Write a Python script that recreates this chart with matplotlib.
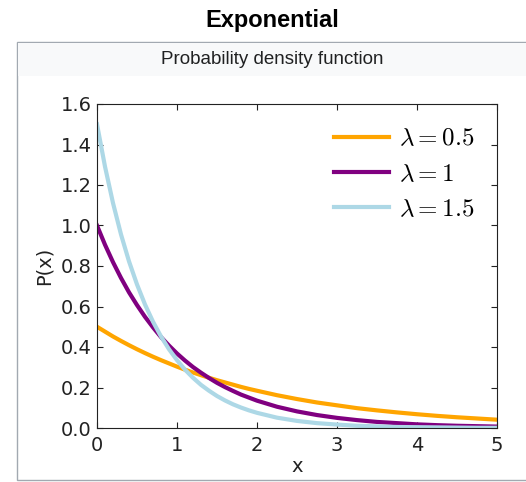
import matplotlib
matplotlib.use("Agg")
from matplotlib import pyplot as plt
from matplotlib.patches import Rectangle

plt.rcParams['mathtext.fontset'] = 'cm'

# values
x = [0.0, 0.1, 0.2, 0.3, 0.4, 0.5, 0.6, 0.7, 0.8, 0.9, 1.0,
     1.1, 1.2, 1.3, 1.4, 1.5, 1.6, 1.7, 1.8, 1.9, 2.0,
     2.25, 2.5, 2.75, 3.0, 3.25, 3.5, 3.75, 4.0, 4.25, 4.5, 4.75, 5.0]
p_05 = [0.500, 0.476, 0.452, 0.430, 0.409, 0.389, 0.370, 0.352, 0.335, 0.319, 0.303,
        0.288, 0.274, 0.261, 0.248, 0.236, 0.225, 0.214, 0.203, 0.193, 0.184,
        0.162, 0.143, 0.126, 0.112, 0.098, 0.087, 0.077, 0.068, 0.060, 0.053, 0.047, 0.041]
p_1 = [1.000, 0.905, 0.819, 0.741, 0.670, 0.607, 0.549, 0.497, 0.449, 0.407, 0.368,
       0.333, 0.301, 0.273, 0.247, 0.223, 0.202, 0.183, 0.165, 0.150, 0.135,
       0.105, 0.082, 0.064, 0.050, 0.039, 0.030, 0.024, 0.018, 0.014, 0.011, 0.009, 0.007]
p_15 = [1.500, 1.291, 1.111, 0.956, 0.823, 0.709, 0.610, 0.525, 0.452, 0.389, 0.335,
        0.288, 0.248, 0.213, 0.184, 0.158, 0.136, 0.117, 0.101, 0.087, 0.075,
        0.051, 0.035, 0.024, 0.017, 0.011, 0.008, 0.005, 0.004, 0.003, 0.002, 0.001, 0.001]
labels = [r'$\lambda=0.5$', r'$\lambda=1$', r'$\lambda=1.5$']
colors = ['orange', 'purple', 'lightblue']

fig = plt.figure(figsize=(5.26, 4.82), dpi=100)

# infobox frame + header band (behind the axes)
fig.patches.append(Rectangle((17/526, 2/482), 1.0, 438/482, transform=fig.transFigure,
                             facecolor='white', edgecolor='#a2a9b1', lw=1, zorder=-2))
fig.patches.append(Rectangle((18/526, 1 - 76/482), 1.0, 33/482, transform=fig.transFigure,
                             facecolor='#f8f9fa', edgecolor='none', zorder=-1))
fig.text(272/526, 1 - 21/482, 'Exponential', ha='center', va='center',
         fontsize=17, fontweight='bold', family='Liberation Sans')
fig.text(272/526, 1 - 60/482, 'Probability density function', ha='center', va='center',
         fontsize=13.5, family='Liberation Sans', color='#202122')

ax = fig.add_axes([97/526, 1 - 428/482, 400/526, 324/482])
ax.patch.set_alpha(0)
for ys, lab, c in zip([p_05, p_1, p_15], labels, colors):
    ax.plot(x, ys, color=c, lw=3, label=lab)

ax.set_xlim(0, 5)
ax.set_ylim(0, 1.6)
ax.set_xticks([0, 1, 2, 3, 4, 5])
ax.set_yticks([0.0, 0.2, 0.4, 0.6, 0.8, 1.0, 1.2, 1.4, 1.6])
ax.set_yticklabels(['0.0', '0.2', '0.4', '0.6', '0.8', '1.0', '1.2', '1.4', '1.6'])
ax.tick_params(direction='in', top=True, right=True, length=4, labelsize=14,
               colors='#222222')
ax.tick_params(axis='y', pad=4)
ax.tick_params(axis='x', pad=6)
for s in ax.spines.values():
    s.set_color('#222222')
ax.set_xlabel('x', fontsize=14, labelpad=1, color='#222222')
ax.set_ylabel('P(x)', fontsize=14, labelpad=5, color='#222222')
ax.legend(loc='upper right', frameon=False, fontsize=18, handlelength=2.2,
          handletextpad=0.4, labelspacing=0.45, borderaxespad=0.5)

plt.savefig('out.png')
